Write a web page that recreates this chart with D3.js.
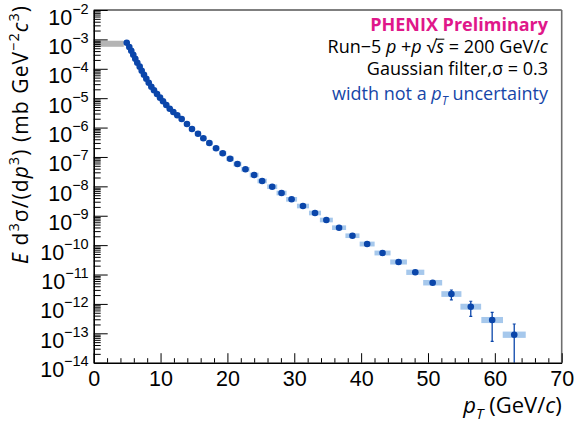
<!DOCTYPE html>
<html>
<head>
<meta charset="utf-8">
<script src="https://cdn.jsdelivr.net/npm/d3@7"></script>
<style>
  body { margin: 0; background: #fff; }
  svg { font-family: "Open Sans", "Noto Sans", sans-serif; }
</style>
</head>
<body>
<div id="chart-area"></div>
<script>
// Data
const pt = [4.94, 5.32, 5.62, 5.92, 6.22, 6.52, 6.88, 7.18, 7.52, 7.87,
  8.23, 8.62, 9.02, 9.47, 9.92, 10.37, 10.86, 11.37, 11.91, 12.5,
  13.16, 13.95, 14.7, 15.6, 16.4, 17.3, 18.3, 19.3, 20.4, 21.5,
  22.7, 24.0, 25.2, 26.7, 28.1, 29.6, 31.3, 33.1, 34.8, 36.7,
  38.7, 40.9, 43.2, 45.6, 48.1, 50.7, 53.5, 56.4, 59.6, 62.9]

const crossSection = [7.71e-4, 5.51e-4, 4.12e-4, 3.01e-4, 2.20e-4, 1.61e-4, 1.18e-4, 8.61e-5, 6.30e-5, 4.59e-5,
  3.36e-5, 2.45e-5, 1.85e-5, 1.39e-5, 1.04e-5, 7.83e-6, 5.86e-6, 4.39e-6, 3.38e-6, 2.61e-6,
  1.95e-6, 1.32e-6, 8.93e-7, 6.18e-7, 4.32e-7, 2.99e-7, 1.97e-7, 1.33e-7, 8.71e-8, 5.75e-8,
  3.80e-8, 2.43e-8, 1.52e-8, 9.72e-9, 5.93e-9, 3.62e-9, 2.14e-9, 1.24e-9, 7.16e-10, 3.92e-10,
  2.09e-10, 1.09e-10, 5.40e-11, 2.67e-11, 1.19e-11, 5.26e-12, 2.17e-12, 8.04e-13, 2.83e-13, 8.95e-14]

// half width of the filter box (GeV/c)
const halfWidth = [0.14, 0.15, 0.15, 0.16, 0.17, 0.18, 0.19, 0.2, 0.21, 0.22,
  0.23, 0.24, 0.25, 0.26, 0.27, 0.29, 0.3, 0.31, 0.33, 0.34,
  0.36, 0.38, 0.4, 0.43, 0.45, 0.48, 0.5, 0.53, 0.56, 0.59,
  0.62, 0.66, 0.7, 0.75, 0.75, 0.82, 0.9, 0.9, 0.97, 1.05,
  1.05, 1.12, 1.2, 1.25, 1.35, 1.42, 1.5, 1.55, 1.62, 1.72]

// relative systematic (box height)
const sysRel = [0.2, 0.2, 0.2, 0.2, 0.2, 0.2, 0.2, 0.2, 0.2, 0.2,
  0.2, 0.2, 0.2, 0.2, 0.2, 0.2, 0.2, 0.2, 0.2, 0.2,
  0.2, 0.2, 0.2, 0.2, 0.2, 0.2, 0.2, 0.2, 0.2, 0.2,
  0.2, 0.2, 0.2, 0.2, 0.2, 0.2, 0.2, 0.2, 0.2, 0.2,
  0.2, 0.21, 0.21, 0.22, 0.23, 0.24, 0.25, 0.26, 0.27, 0.28]

// statistical error (absolute)
const statErr = [0, 0, 0, 0, 0, 0, 0, 0, 0, 0,
  0, 0, 0, 0, 0, 0, 0, 0, 0, 0,
  0, 0, 0, 0, 0, 0, 0, 0, 0, 0,
  0, 0, 0, 0, 0, 0, 0, 0, 0, 0,
  0, 0, 0, 0, 0, 0, 0.8e-12, 4.3e-13, 2.3e-13, 1.18e-13]

// gray low-pT band
const grayPt = [0, 4.5]
const grayRange = [5.6e-4, 9.0e-4]

const xTicks = [0, 10, 20, 30, 40, 50, 60, 70]
const yExponents = [-2, -3, -4, -5, -6, -7, -8, -9, -10, -11, -12, -13, -14]

const data = pt.map((p, i) => ({
  pt: p, y: crossSection[i], hw: halfWidth[i], sys: sysRel[i], stat: statErr[i]
}))

// Set margins and dimensions
const W = 577, H = 426
const MARGIN = { LEFT: 93.7, RIGHT: 15.3, TOP: 10, BOTTOM: 63.3 }
const WIDTH = W - MARGIN.LEFT - MARGIN.RIGHT
const HEIGHT = H - MARGIN.TOP - MARGIN.BOTTOM

const svg = d3.select("#chart-area").append("svg")
  .attr("width", W)
  .attr("height", H)

const g = svg.append("g")
  .attr("transform", `translate(${MARGIN.LEFT}, ${MARGIN.TOP})`)

const x = d3.scaleLinear().domain([0, 70]).range([0, WIDTH])
const y = d3.scaleLog().domain([1e-14, 1e-2]).range([HEIGHT, 0])

svg.append("defs").append("clipPath").attr("id", "plot-clip")
  .append("rect").attr("width", WIDTH).attr("height", HEIGHT)

const plot = g.append("g").attr("clip-path", "url(#plot-clip)")

// gray band
plot.append("rect")
  .attr("x", x(grayPt[0]))
  .attr("width", x(grayPt[1]) - x(grayPt[0]))
  .attr("y", y(grayRange[1]))
  .attr("height", y(grayRange[0]) - y(grayRange[1]))
  .attr("fill", "#b4b4b4")

// filter width boxes
plot.selectAll("rect.box")
  .data(data)
  .enter().append("rect")
  .attr("class", "box")
  .attr("x", d => x(d.pt - d.hw))
  .attr("width", d => x(d.pt + d.hw) - x(d.pt - d.hw))
  .attr("y", d => y(d.y * (1 + d.sys)))
  .attr("height", d => y(d.y / (1 + d.sys)) - y(d.y * (1 + d.sys)))
  .attr("fill", "#a6c8ec")

// stat error bars
const withErr = data.filter(d => d.stat > 0)
const lowY = d => d.y - d.stat > 0 ? y(d.y - d.stat) : HEIGHT + 5
plot.selectAll("line.err")
  .data(withErr)
  .enter().append("line")
  .attr("class", "err")
  .attr("x1", d => x(d.pt)).attr("x2", d => x(d.pt))
  .attr("y1", d => y(d.y + d.stat))
  .attr("y2", lowY)
  .attr("stroke", "#0b46aa").attr("stroke-width", 1.3)
plot.selectAll("line.capHi")
  .data(withErr)
  .enter().append("line")
  .attr("x1", d => x(d.pt) - 1.5).attr("x2", d => x(d.pt) + 1.5)
  .attr("y1", d => y(d.y + d.stat)).attr("y2", d => y(d.y + d.stat))
  .attr("stroke", "#0b46aa").attr("stroke-width", 1.2)
plot.selectAll("line.capLo")
  .data(withErr.filter(d => d.y - d.stat > 0))
  .enter().append("line")
  .attr("x1", d => x(d.pt) - 1.5).attr("x2", d => x(d.pt) + 1.5)
  .attr("y1", d => y(d.y - d.stat)).attr("y2", d => y(d.y - d.stat))
  .attr("stroke", "#0b46aa").attr("stroke-width", 1.2)

// points
plot.selectAll("circle")
  .data(data)
  .enter().append("circle")
  .attr("cx", d => x(d.pt))
  .attr("cy", d => y(d.y))
  .attr("r", 3.3)
  .attr("fill", "#0b46aa")

// frame: top and right
g.append("line").attr("x1", 0).attr("x2", WIDTH).attr("y1", 0).attr("y2", 0)
  .attr("stroke", "#000").attr("stroke-width", 1.2)
g.append("line").attr("x1", WIDTH).attr("x2", WIDTH).attr("y1", 0).attr("y2", HEIGHT)
  .attr("stroke", "#6e6e6e").attr("stroke-width", 1.6)

// X axis (ticks inward)
const xMinor = d3.range(0, 71, 2).filter(v => v % 10 !== 0)
g.append("g")
  .attr("transform", `translate(0, ${HEIGHT})`)
  .call(d3.axisBottom(x).tickValues(xMinor).tickSize(-4.5).tickFormat(""))
  .call(s => s.select(".domain").remove())
const xAxis = g.append("g")
  .attr("class", "x axis")
  .attr("transform", `translate(0, ${HEIGHT})`)
  .call(d3.axisBottom(x).tickValues(xTicks).tickSize(-9.5).tickSizeOuter(0).tickPadding(8))
xAxis.select(".domain").attr("stroke-width", 1.6)
xAxis.selectAll("text").attr("font-size", "21.5px").attr("fill", "#000")

// Y axis (log, ticks inward)
const yMinor = []
yExponents.slice(1).forEach(e => {
  for (let k = 2; k <= 9; k++) yMinor.push(k * Math.pow(10, e))
})
g.append("g")
  .call(d3.axisLeft(y).tickValues(yMinor).tickSize(-7).tickFormat(""))
  .call(s => s.select(".domain").remove())
const yAxis = g.append("g")
  .attr("class", "y axis")
  .call(d3.axisLeft(y).tickValues(yExponents.map(e => Math.pow(10, e)))
    .tickSize(-14).tickSizeOuter(0).tickPadding(5).tickFormat(""))
yAxis.select(".domain").attr("stroke-width", 1.6)
yAxis.selectAll(".tick text").each(function (d) {
  const e = Math.round(Math.log10(d))
  const t = d3.select(this)
    .attr("dy", null).attr("y", 14)
    .attr("font-size", "21.5px").attr("fill", "#000")
  t.append("tspan").text("10")
  t.append("tspan").attr("dy", -11).attr("font-size", "14.5px").text("\u2212" + Math.abs(e))
})

// X label
const xLabel = svg.append("text")
  .attr("x", MARGIN.LEFT + WIDTH)
  .attr("y", 413)
  .attr("font-size", "22px")
  .attr("text-anchor", "end")
xLabel.append("tspan").attr("font-style", "italic").text("p")
xLabel.append("tspan").attr("font-style", "italic").attr("font-size", "15px").attr("dy", 6).text("T")
xLabel.append("tspan").attr("dy", -6).text(" (GeV/")
xLabel.append("tspan").attr("font-style", "italic").text("c")
xLabel.append("tspan").text(")")

// Y label
const yLabel = svg.append("text")
  .attr("transform", "translate(28, 6) rotate(-90)")
  .attr("font-size", "21px")
  .attr("text-anchor", "end")
  .attr("textLength", 258)
  .attr("lengthAdjust", "spacing")
const yParts = [
  ["E", "italic", 0, 21], [" d", null, 0, 21], ["3", null, -9, 14.5], ["\u03c3/(d", null, 9, 21],
  ["p", "italic", 0, 21], ["3", null, -9, 14.5], [") (mb GeV", null, 9, 21], ["\u22122", null, -9, 14.5],
  ["c", "italic", 9, 21], ["3", null, -9, 14.5], [")", null, 9, 21]
]
yParts.forEach(([txt, style, dy, fs]) => {
  yLabel.append("tspan").attr("font-style", style).attr("dy", dy).attr("font-size", fs + "px").text(txt)
})

// Legend text
const LX = 548
svg.append("text").attr("x", LX).attr("y", 31).attr("text-anchor", "end")
  .attr("font-size", "18px").attr("font-weight", "bold").attr("fill", "#e0178a")
  .text("PHENIX Preliminary")

const l2 = svg.append("text").attr("x", LX).attr("y", 53).attr("text-anchor", "end")
  .attr("font-size", "18px").attr("fill", "#000")
l2.append("tspan").text("Run\u22125 ")
l2.append("tspan").attr("font-style", "italic").text("p")
l2.append("tspan").text(" +")
l2.append("tspan").attr("font-style", "italic").text("p")
l2.append("tspan").text(" ")
const sqrtSign = l2.append("tspan").text("\u221a")
const sArg = l2.append("tspan").attr("font-style", "italic").text("s")
l2.append("tspan").text(" = 200 GeV/")
l2.append("tspan").attr("font-style", "italic").text("c")

// overline of the square root over s
const rootBox = sqrtSign.node().getBBox()
const sBox = sArg.node().getBBox()
svg.append("line")
  .attr("x1", rootBox.x + rootBox.width - 1.5).attr("x2", sBox.x + sBox.width)
  .attr("y1", 39.2).attr("y2", 39.2)
  .attr("stroke", "#000").attr("stroke-width", 1)

svg.append("text").attr("x", LX).attr("y", 75).attr("text-anchor", "end")
  .attr("font-size", "18px").attr("fill", "#000")
  .text("Gaussian filter,\u03c3 = 0.3")

const l4 = svg.append("text").attr("x", LX).attr("y", 100).attr("text-anchor", "end")
  .attr("font-size", "18px").attr("fill", "#1646a8")
l4.append("tspan").text("width not a ")
l4.append("tspan").attr("font-style", "italic").text("p")
l4.append("tspan").attr("font-style", "italic").attr("font-size", "12px").attr("dy", 5).text("T")
l4.append("tspan").attr("dy", -5).text(" uncertainty")
</script>
</body>
</html>
